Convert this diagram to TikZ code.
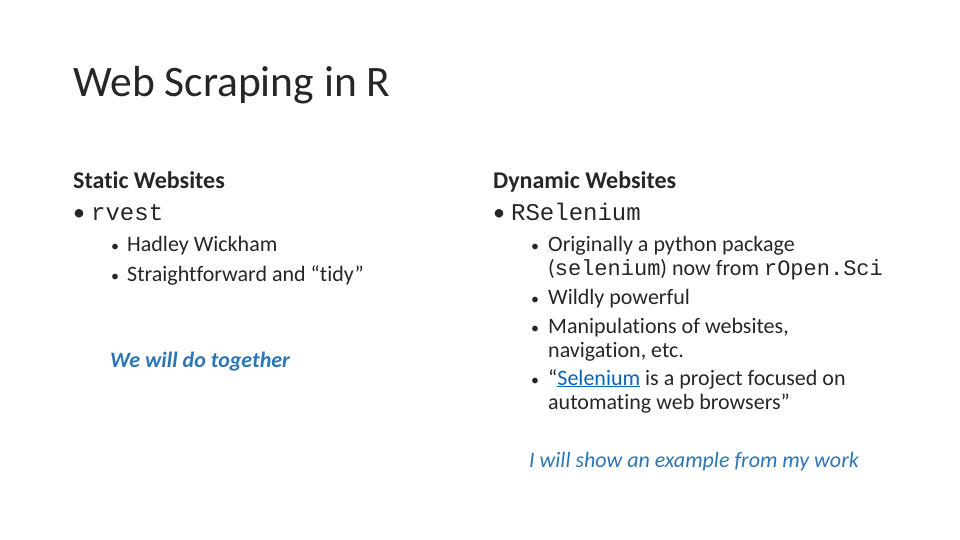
\documentclass[tikz,border=0pt]{standalone}
\usepackage{fontspec}
\setmainfont{Carlito}[Ligatures={NoCommon,TeX}]
\setmonofont{Liberation Mono}
\definecolor{accent}{RGB}{46,117,182}
\definecolor{linkc}{RGB}{5,99,193}
\begin{document}
\begin{tikzpicture}[x=1pt,y=-1pt,
  txt/.style={anchor=base west,inner sep=0pt,text=black!85},
  big/.style={txt,font=\fontsize{24}{28}\selectfont},
  small/.style={txt,font=\fontsize{22}{26}\selectfont},
  bul/.style={txt,font=\fontsize{16}{18}\selectfont}]
\useasboundingbox (0,0) rectangle (960,540);
\node[txt,font=\fontsize{43.5}{48}\selectfont] (title) at (73,97) {Web Scraping in R};
% left
\node[big,font=\fontsize{24}{28}\selectfont\bfseries] (lh) at (73,188) {Static Websites};
\node[big] (lb) at (73,220) {•\hspace{6pt}\fontsize{24}{28}\selectfont\texttt{rvest}};
\node[bul] (lb1) at (111,251) {•};
\node[small] (l1) at (127,251) {Hadley Wickham};
\node[bul] (lb2) at (111,281) {•};
\node[small] (l2) at (127,281) {Straightforward and “tidy”};
\node[small,text=accent,font=\fontsize{22}{26}\selectfont\itshape\bfseries] (lw) at (110,367) {We will do together};
% right
\node[big,font=\fontsize{24}{28}\selectfont\bfseries] (rh) at (493,188) {Dynamic Websites};
\node[big] (rb) at (493,220) {•\hspace{6pt}\texttt{RSelenium}};
\node[bul] (b1) at (531,251) {•};
\node[small] (r1) at (548,251) {Originally a python package};
\node[small] (r1b) at (548,275) {(\texttt{selenium}) now from \texttt{rOpen.Sci}};
\node[bul] (b2) at (531,304) {•};
\node[small] (r2) at (548,304) {Wildly powerful};
\node[bul] (b3) at (531,333) {•};
\node[small] (r3) at (548,333) {Manipulations of websites,};
\node[small] (r3b) at (548,357) {navigation, etc.};
\node[bul] (b4) at (531,385) {•};
\node[small] (r4) at (548,385) {“{\color{linkc}\underline{Selenium}} is a project focused on};
\node[small] (r4b) at (548,409) {automating web browsers”};
\node[small,text=accent,font=\fontsize{22}{26}\selectfont\itshape] (rw) at (529,467) {I will show an example from my work};
\end{tikzpicture}
\end{document}
